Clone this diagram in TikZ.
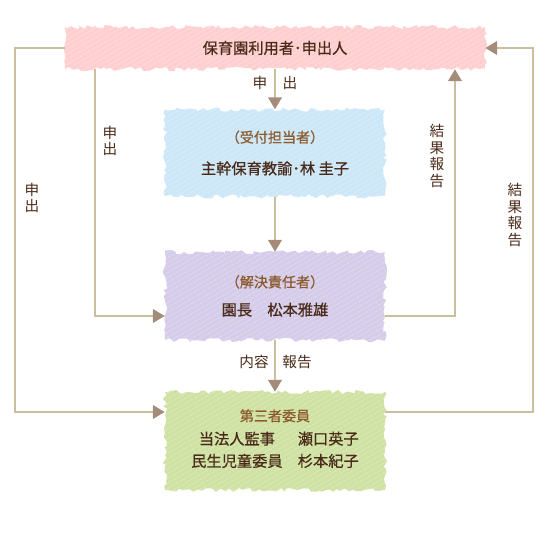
\documentclass[tikz,border=0pt]{standalone}
\usepackage{fontspec}
\setmainfont{Noto Sans CJK JP}
\newfontfamily\boxfont[FakeBold=0.7]{Noto Sans CJK JP}
\usepackage{tikz}
\usetikzlibrary{arrows.meta,decorations.pathmorphing,patterns.meta}
\definecolor{mypink}{HTML}{FFCFD0}
\definecolor{myblue}{HTML}{CCE7F8}
\definecolor{myviolet}{HTML}{D5CCEA}
\definecolor{mygreen}{HTML}{CFE2A3}
\definecolor{myline}{HTML}{CBBE9C}
\definecolor{mytip}{HTML}{A58B79}
\definecolor{mytext}{HTML}{4A2A18}
\definecolor{mysub}{HTML}{8C5A2C}
\newcommand{\role}[1]{{\color{mysub}\fontsize{12}{15}\selectfont #1}}
\tikzset{
  box/.style={align=center, text=mytext, inner sep=0pt, font=\boxfont\fontsize{13}{17}\selectfont,
              decorate, decoration={random steps, segment length=3pt, amplitude=1.8pt},
              postaction={pattern={Lines[angle=30,distance=4pt,line width=.7pt]}, pattern color=white, opacity=.4}},
  pinkbox/.style={box, fill=mypink, minimum width=12.6cm, minimum height=1.26cm},
  bluebox/.style={box, fill=myblue, minimum width=6.6cm, minimum height=2.61cm},
  violetbox/.style={box, fill=myviolet, minimum width=6.6cm, minimum height=2.64cm},
  greenbox/.style={box, fill=mygreen, minimum width=6.6cm, minimum height=2.94cm},
  link/.style={draw=myline, line width=2.5pt, -{Triangle[length=3.6mm, width=4mm, color=mytip]}},
  lab/.style={text=mytext, inner sep=0pt, font=\fontsize{12.5}{15}\selectfont},
  vlab/.style={lab, align=center, font=\fontsize{12.5}{14}\selectfont},
}
\begin{document}
\begin{tikzpicture}[x=0.03cm, y=-0.03cm]
    \useasboundingbox (0,0) rectangle (550,541);
    \node[pinkbox] (user) at (275,48) {保育園利用者･申出人};
    \node[bluebox] (recept) at (275,153) {\role{（受付担当者）}\\[10pt]主幹保育教諭･林 圭子};
    \node[violetbox] (resolve) at (275,296) {\role{（解決責任者）}\\[7pt]園長　松本雅雄};
    \node[greenbox] (third) at (275,441) {\role{第三者委員}\\[6pt]
      \begin{tabular}{@{}c@{\hspace{1em}}l@{}}当法人監事 & 瀬口英子\\[2pt] 民生児童委員 & 杉本紀子\end{tabular}};
    \draw[link] (user) -- (recept);
    \draw[link] (recept) -- (resolve);
    \draw[link] (resolve) -- (third);
    \draw[link] (user.west) -- (15,48) |- (third.west |- 0,412);
    \draw[link] (user.south -| 95,0) |- (resolve.west |- 0,316);
    \draw[link] (resolve.east |- 0,316) -| (user.south -| 455,0);
    \draw[link] (third.east |- 0,412) -| (533,48) -- (user.east);
    \node[lab] (m1) at (260,83) {申};
    \node[lab] (m2) at (290,83) {出};
    \node[lab] (c1) at (254,362) {内容};
    \node[lab] (c2) at (297,362) {報告};
    \node[vlab] (v1) at (110,141) {申\\出};
    \node[vlab] (v2) at (32,198) {申\\出};
    \node[vlab] (v3) at (437,156) {結\\果\\報\\告};
    \node[vlab] (v4) at (515,215) {結\\果\\報\\告};
  \end{tikzpicture}
\end{document}
